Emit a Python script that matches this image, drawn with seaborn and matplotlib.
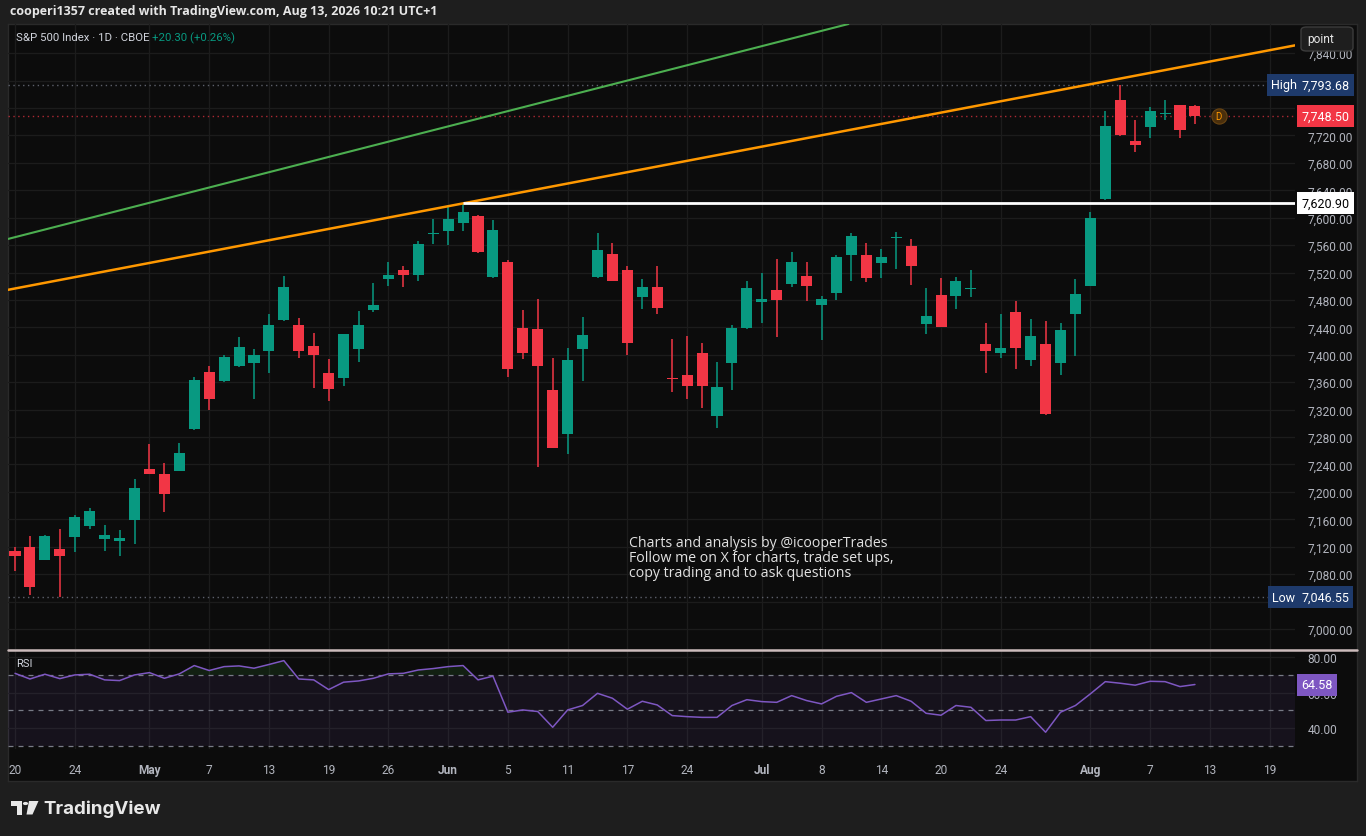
import numpy as np
import pandas as pd
import matplotlib
matplotlib.use("Agg")
import matplotlib.pyplot as plt
import seaborn as sns
from matplotlib.patches import FancyBboxPatch, Polygon, Circle
from matplotlib.lines import Line2D
from matplotlib.transforms import blended_transform_factory

W, H = 1366, 837

# --- data -------------------------------------------------------------
holidays = ['2026-05-25', '2026-06-19', '2026-07-03']
all_days = pd.bdate_range('2026-04-20', '2026-08-21')
all_days = all_days[~all_days.isin(pd.to_datetime(holidays))]

opens = [7114, 7120, 7101, 7117, 7134, 7150, 7131, 7128, 7159, 7233,
         7226, 7231, 7292, 7375, 7362, 7383, 7388, 7406, 7451, 7443,
         7413, 7374, 7366, 7409, 7466, 7510, 7524, 7517, 7576, 7580,
         7593, 7603, 7513, 7535, 7439, 7437, 7349, 7285, 7409, 7513,
         7547, 7523, 7484, 7499, 7365, 7370, 7403, 7310, 7388, 7439,
         7477, 7494, 7504, 7515, 7473, 7490, 7546, 7546, 7534, 7570,
         7558, 7445, 7487, 7486, 7496, 7416, 7403, 7463, 7392, 7416,
         7388, 7459, 7501, 7627, 7771, 7712, 7732, 7751, 7764, 7763]
highs = [7120, 7135, 7137, 7146, 7167, 7177, 7151, 7144, 7219, 7270,
         7242, 7271, 7367, 7383, 7400, 7426, 7409, 7459, 7515, 7453,
         7432, 7394, 7431, 7464, 7505, 7536, 7529, 7566, 7598, 7615,
         7620.90, 7604, 7597, 7539, 7465, 7481, 7395, 7410, 7455, 7577,
         7563, 7530, 7510, 7529, 7423, 7427, 7417, 7390, 7443, 7507,
         7520, 7540, 7550, 7535, 7486, 7546, 7578, 7563, 7555, 7579,
         7569, 7497, 7512, 7513, 7524, 7447, 7459, 7479, 7452, 7449,
         7446, 7511, 7609, 7756, 7793.68, 7742, 7761, 7772, 7765, 7764]
lows = [7084, 7049, 7100, 7046.55, 7112, 7146, 7114, 7106, 7124, 7226,
        7171, 7230, 7291, 7320, 7360, 7382, 7336, 7374, 7450, 7396,
        7351, 7332, 7355, 7389, 7462, 7500, 7499, 7507, 7562, 7560,
        7581, 7548, 7512, 7367, 7394, 7236, 7264, 7255, 7362, 7512,
        7507, 7400, 7467, 7459, 7346, 7336, 7322, 7293, 7348, 7438,
        7447, 7426, 7499, 7478, 7421, 7480, 7507, 7506, 7512, 7525,
        7502, 7430, 7440, 7467, 7484, 7374, 7395, 7380, 7383, 7312,
        7371, 7398, 7500, 7626, 7719, 7696, 7717, 7742, 7716, 7736]
closes = [7106, 7061, 7136, 7106, 7163, 7172, 7137, 7133, 7206, 7226,
          7197, 7257, 7363, 7335, 7397, 7411, 7399, 7443, 7499, 7406,
          7400, 7350, 7430, 7444, 7472, 7517, 7517, 7562, 7577, 7598,
          7609, 7550, 7582, 7380, 7403, 7383, 7264, 7392, 7429, 7553,
          7508, 7417, 7499, 7469, 7364, 7355, 7354, 7353, 7439, 7497,
          7481, 7480, 7536, 7501, 7481, 7542, 7574, 7512, 7542, 7571,
          7530, 7456, 7440, 7507, 7497, 7406, 7410, 7410, 7427, 7313,
          7436, 7488, 7600, 7734, 7721, 7706, 7756, 7752, 7728.20, 7748.50]
rsi = [70.9, 67.7, 70.4, 67.9, 70.0, 70.4, 67.2, 66.8, 70.0, 71.3,
       68.1, 70.6, 75.3, 72.5, 74.7, 75.1, 73.8, 75.9, 78.1, 67.7,
       67.2, 61.7, 65.9, 66.6, 68.1, 70.6, 70.9, 72.8, 73.6, 74.7,
       75.3, 67.2, 69.3, 48.9, 50.2, 49.3, 40.4, 50.2, 52.7, 59.6,
       56.8, 50.6, 55.1, 53.0, 47.0, 46.4, 46.0, 46.0, 52.7, 56.0,
       54.9, 54.5, 58.3, 55.5, 53.6, 57.9, 60.0, 54.5, 56.4, 58.3,
       55.1, 48.3, 47.2, 52.7, 51.7, 44.2, 44.5, 44.5, 46.4, 37.6,
       48.9, 52.7, 59.3, 66.2, 65.3, 64.2, 66.4, 66.2, 63.4, 64.58]

price_ticks = list(range(7000, 7841, 40))
hidden_ticks = [7040, 7800]   # covered by the High / Low tags
tick_dates = ['2026-04-20', '2026-04-24', '2026-05-01', '2026-05-07', '2026-05-13',
              '2026-05-19', '2026-05-26', '2026-06-01', '2026-06-05', '2026-06-11',
              '2026-06-17', '2026-06-24', '2026-07-01', '2026-07-08', '2026-07-14',
              '2026-07-20', '2026-07-24', '2026-08-03', '2026-08-07', '2026-08-13',
              '2026-08-19']
tick_labels = ['20', '24', 'May', '7', '13', '19', '26', 'Jun', '5', '11', '17',
               '24', 'Jul', '8', '14', '20', '24', 'Aug', '7', '13', '19']

# drawn lines (anchor points: bar index, price)
green_line = [(-0.47, 7569.0), (55.8, 7882.6)]
orange_line = [(30, 7620.90), (74, 7803.0)]
resistance = 7620.90
resistance_start = 30
high_val, low_val, last_val, rsi_last = 7793.68, 7046.55, 7748.50, 64.58

df = pd.DataFrame({'i': np.arange(len(opens)), 'open': opens, 'high': highs,
                   'low': lows, 'close': closes, 'rsi': rsi})
tick_pos = [all_days.get_loc(pd.Timestamp(d)) for d in tick_dates]

# --- style ------------------------------------------------------------
sns.set_theme(style='dark')
plt.rcParams['font.family'] = ['Roboto', 'DejaVu Sans']

BG = '#0c0c0c'
OUTER = '#1e1e1e'
GRID = '#1c1c1c'
TXT = '#b2b5be'
UP, DOWN = '#089981', '#f23645'


def rect(x0, y0, x1, y1):
    return [x0 / W, 1 - y1 / H, (x1 - x0) / W, (y1 - y0) / H]


def fx(x):
    return x / W


def fy(y):
    return 1 - y / H


fig = plt.figure(figsize=(W / 100, H / 100), dpi=100, facecolor=OUTER)

# chart panel
panel = fig.add_axes(rect(8, 25, 1357, 782))
panel.set_facecolor(BG)
panel.set_xticks([])
panel.set_yticks([])
for s in panel.spines.values():
    s.set_color('#2a2a2a')
    s.set_linewidth(1)

ax = fig.add_axes(rect(8, 25, 1295, 650))
ax2 = fig.add_axes(rect(8, 651, 1295, 750))
for a in (ax, ax2):
    a.set_facecolor('none')
    for s in a.spines.values():
        s.set_visible(False)
    a.set_xlim(-0.47, 85.7)
    a.set_xticks(tick_pos)
    a.grid(True, color=GRID, lw=0.9)
    a.set_axisbelow(True)

# --- candles ----------------------------------------------------------
colors = [UP if c >= o else DOWN for o, c in zip(df['open'], df['close'])]
ax.vlines(df['i'], df['low'], df['high'], colors=colors, lw=1.1, zorder=3)
body_h = np.maximum(np.abs(df['close'] - df['open']), 1.6)
body_b = np.minimum(df['open'], df['close'])
ax.bar(df['i'], body_h, bottom=body_b, width=0.74, color=colors, lw=0, zorder=4)

ax.set_ylim(6970.8, 7882.6)
ax.set_yticks(price_ticks)
ax.set_yticklabels(['' if v in hidden_ticks else f'{v:,.2f}' for v in price_ticks])
ax.yaxis.tick_right()
ax.tick_params(axis='y', length=0, pad=9, labelsize=8.6, labelcolor=TXT)
ax.tick_params(axis='x', length=0, labelbottom=False)
ax.set_xlabel('')
ax.set_ylabel('')

# drawings
ax.axline(green_line[0], green_line[1], color='#4caf50', lw=1.5, zorder=5)
ax.axline(orange_line[0], orange_line[1], color='#ff9800', lw=1.8, zorder=5)
ax.hlines(resistance, resistance_start, 90, color='white', lw=2, zorder=5)
ax.axhline(high_val, color='#5d606b', lw=1, ls=(0, (1, 2.5)), zorder=2)
ax.axhline(low_val, color='#5d606b', lw=1, ls=(0, (1, 2.5)), zorder=2)
ax.axhline(last_val, color=DOWN, lw=1, ls=(0, (1, 2.5)), alpha=0.7, zorder=2)

# dividend marker
ax.scatter([80.6], [last_val], s=120, color='#4a2f0c', edgecolor='#6a4512', lw=0.8, zorder=6)
ax.text(80.6, last_val, 'D', color='#ff9800', fontsize=7, ha='center', va='center', zorder=7)

# price tags
tr = blended_transform_factory(ax.transAxes, ax.transData)


def tag(axis, x_px, y, text, fc, tc, size=9.0, trans=None):
    axis.text((x_px - 8) / 1287, y, text, transform=trans, ha='left', va='center',
              fontsize=size, color=tc, clip_on=False, zorder=10,
              bbox=dict(boxstyle='square,pad=0.36', fc=fc, ec='none'))


tag(ax, 1301, high_val, f'{high_val:,.2f}', '#1e3a6b', 'white', trans=tr)
tag(ax, 1271, high_val, 'High', '#1e3a6b', 'white', trans=tr)
tag(ax, 1301, last_val, f'{last_val:,.2f}', DOWN, 'white', trans=tr)
tag(ax, 1301, resistance, f'{resistance:,.2f}', 'white', 'black', trans=tr)
tag(ax, 1301, low_val, f'{low_val:,.2f}', '#1e3a6b', 'white', trans=tr)
tag(ax, 1272, low_val, 'Low', '#1e3a6b', 'white', trans=tr)

# --- RSI --------------------------------------------------------------
ax2.set_ylim(28.1, 84.1)
ax2.axhspan(30, 70, color='#7e57c2', alpha=0.09, lw=0, zorder=1)
for lvl in (70, 50, 30):
    ax2.axhline(lvl, color='#787b86', lw=0.9, ls=(0, (4, 4)), zorder=2)
ax2.fill_between(df['i'], 70, df['rsi'], where=df['rsi'] > 70, interpolate=True,
                 color='#2e7d32', alpha=0.18, lw=0, zorder=2)
sns.lineplot(data=df, x='i', y='rsi', ax=ax2, color='#7e57c2', lw=1.1, zorder=3)
ax2.set_xlabel('')
ax2.set_ylabel('')
ax2.set_yticks([40, 60, 80])
ax2.set_yticklabels(['40.00', '60.00', '80.00'])
ax2.yaxis.tick_right()
ax2.tick_params(axis='y', length=0, pad=9, labelsize=8.6, labelcolor=TXT)
ax2.set_xticklabels(tick_labels)
ax2.tick_params(axis='x', length=0, pad=10, labelsize=8.6, labelcolor=TXT)
for lab in ax2.get_xticklabels():
    if lab.get_text() in ('May', 'Jun', 'Jul', 'Aug'):
        lab.set_fontweight('bold')
tr2 = blended_transform_factory(ax2.transAxes, ax2.transData)
tag(ax2, 1301, rsi_last, f'{rsi_last:.2f}', '#7e57c2', 'white', trans=tr2)
ax2.text(8 / 1287, 76.8, 'RSI', transform=tr2, color='#d1d4dc', fontsize=8, va='center')

# separator between panes
fig.add_artist(Line2D([fx(8), fx(1357)], [fy(650.7), fy(650.7)], color='#cdbcbc', lw=1.8))

# --- texts ------------------------------------------------------------
fig.text(fx(10), fy(12), 'cooperi1357 created with TradingView.com, Aug 13, 2026 10:21 UTC+1',
         color='#e6e6e6', fontsize=9, fontweight='bold', va='center', family=['Open Sans', 'DejaVu Sans'])
fig.text(fx(16), fy(38), 'S&P 500 Index · 1D · CBOE', color='#d1d4dc', fontsize=8.2, va='center')
fig.text(fx(152), fy(38), '+20.30 (+0.26%)', color=UP, fontsize=8.2, va='center')

fig.text(fx(629), fy(536),
         'Charts and analysis by @icooperTrades\nFollow me on X for charts, trade set ups,\ncopy trading and to ask questions',
         color='#e2e2e2', fontsize=10.2, va='top', ha='left', linespacing=1.0,
         family=['Open Sans', 'DejaVu Sans'])

# 'point' button
btn = FancyBboxPatch((fx(1301), fy(52)), fx(52), 24 / H,
                     boxstyle='round,pad=0,rounding_size=0.004', transform=fig.transFigure,
                     fc='#1e1e1e', ec='#3c3c3c', lw=1, zorder=20)
fig.add_artist(btn)
fig.text(fx(1321), fy(40), 'point', color='#e6e6e6', fontsize=8.6, ha='center', va='center', zorder=21)

# TradingView logo
logo = '#e8e8e8'
fig.add_artist(Polygon([(fx(11), fy(802)), (fx(22), fy(802)), (fx(22), fy(815.5)),
                        (fx(17), fy(815.5)), (fx(17), fy(807)), (fx(11), fy(807))],
                       closed=True, transform=fig.transFigure, fc=logo, ec='none'))
fig.add_artist(Circle((fx(25.5), fy(804.5)), 2.6 / W, transform=fig.transFigure, fc=logo, ec='none'))
fig.add_artist(Polygon([(fx(29), fy(802)), (fx(38.5), fy(802)), (fx(32.5), fy(815.5)),
                        (fx(26.5), fy(815.5))],
                       closed=True, transform=fig.transFigure, fc=logo, ec='none'))
fig.text(fx(43), fy(809), 'TradingView', color=logo, fontsize=13.5, fontweight='bold',
         va='center', family=['Inter', 'DejaVu Sans'])

fig.savefig('out.png', dpi=100, facecolor=OUTER)
